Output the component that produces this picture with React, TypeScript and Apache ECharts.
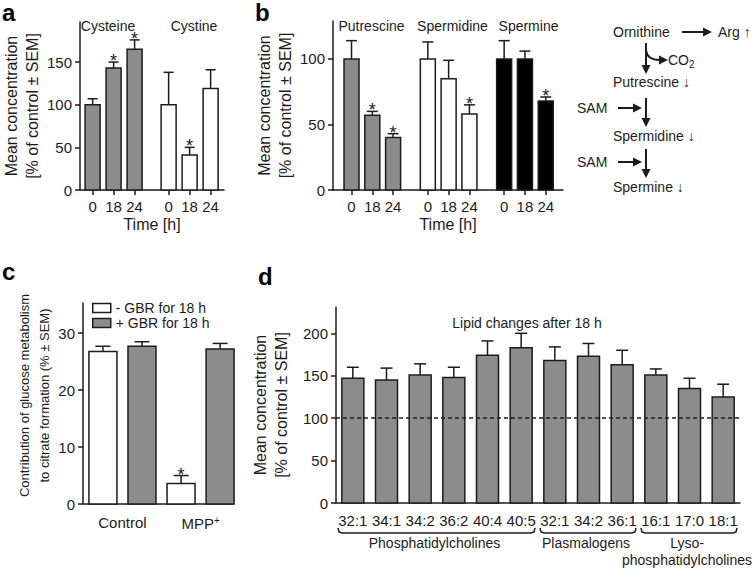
import React, { useEffect, useRef } from 'react';
import * as echarts from 'echarts';

// ---------------- data ----------------
const timeLabels = ['0', '18', '24'];

const cysteineMean = [100, 143, 165];
const cysteineSem = [7, 7, 11];
const cysteineSig = [0, 1, 1];

const cystineMean = [100, 41, 119];
const cystineSem = [38, 9, 22];
const cystineSig = [0, 1, 0];

const putrescineMean = [100, 57, 40];
const putrescineSem = [14, 3, 3];
const putrescineSig = [0, 1, 1];

const spermidineMean = [100, 85, 58];
const spermidineSem = [13, 14, 7];
const spermidineSig = [0, 0, 1];

const spermineMean = [100, 100, 68];
const spermineSem = [14, 6, 3];
const spermineSig = [0, 0, 1];

const citrateCategories = ['Control', 'MPP+'];
const minusGbrMean = [26.8, 3.6];
const minusGbrSem = [0.9, 1.4];
const minusGbrSig = [0, 1];
const plusGbrMean = [27.7, 27.2];
const plusGbrSem = [0.8, 1.0];
const plusGbrSig = [0, 0];

const lipidLabels = ['32:1', '34:1', '34:2', '36:2', '40:4', '40:5', '32:1', '34:2', '36:1', '16:1', '17:0', '18:1'];
const lipidMean = [147, 145, 151, 148, 174, 183, 168, 173, 163, 151, 135, 125];
const lipidSem = [13, 14, 13, 12, 17, 17, 16, 15, 17, 7, 12, 15];
const lipidGroupNames = ['Phosphatidylcholines', 'Plasmalogens', 'Lyso-\nphosphatidylcholines'];
const lipidGroupStart = [0, 6, 9];
const lipidGroupEnd = [5, 8, 11];
const lipidReference = 100;

const yTicksA = [0, 50, 100, 150];
const yTicksB = [0, 50, 100];
const yTicksC = [0, 10, 20, 30];
const yTicksD = [0, 50, 100, 150, 200];

// ---------------- style / layout ----------------
const INK = '#1c1c1c';
const GREY = '#8c8c8c';
const FONT = "'Liberation Sans', Arial, Helvetica, sans-serif";
const STEP_A = 3.62;
const STEP_B = 3.67;
const STEP_C = 2;

function rows(mean: number[], sem: number[], sig: number[], group: number, step: number) {
  return mean.map((m, i) => [group * step + i, m, sem[i], sig[i]]);
}
function rowsC(mean: number[], sem: number[], sig: number[], sub: number) {
  return mean.map((m, i) => [i * STEP_C + sub, m, sem[i], sig[i]]);
}

function barRenderer(fill: string, barW: number, capW: number) {
  return (params: any, api: any) => {
    const x = api.value(0);
    const v = api.value(1);
    const e = api.value(2);
    const sig = api.value(3);
    const base = api.coord([x, 0]);
    const top = api.coord([x, v]);
    const et = api.coord([x, v + e]);
    const cx = base[0];
    const stroke = { stroke: INK, lineWidth: 1.5 };
    const children: any[] = [
      { type: 'line', shape: { x1: cx, y1: top[1], x2: cx, y2: et[1] }, style: stroke },
      { type: 'line', shape: { x1: cx - capW / 2, y1: et[1], x2: cx + capW / 2, y2: et[1] }, style: stroke },
      {
        type: 'rect',
        shape: { x: cx - barW / 2, y: top[1], width: barW, height: base[1] - top[1] },
        style: { fill, stroke: INK, lineWidth: 1.5 },
      },
    ];
    if (sig) {
      children.push({
        type: 'text',
        x: cx,
        y: et[1] - 1,
        style: { text: '*', fill: INK, fontSize: 18, fontFamily: FONT, align: 'center', verticalAlign: 'middle' },
      });
    }
    return { type: 'group', children };
  };
}

function labelLookup(positions: number[], labels: string[]) {
  return (v: number) => {
    let best = 0;
    positions.forEach((p, k) => {
      if (Math.abs(p - v) < Math.abs(positions[best] - v)) best = k;
    });
    return labels[best];
  };
}

const posA = [0, 1].flatMap((g) => timeLabels.map((_, i) => g * STEP_A + i));
const labA = [0, 1].flatMap(() => timeLabels);
const posB = [0, 1, 2].flatMap((g) => timeLabels.map((_, i) => g * STEP_B + i));
const labB = [0, 1, 2].flatMap(() => timeLabels);
const posC = citrateCategories.map((_, i) => i * STEP_C + 0.5);

const axisLineStyle = { onZero: false, lineStyle: { color: INK, width: 1.5 } };
const tickStyle = { lineStyle: { color: INK, width: 1.5 }, length: 5 };

const yTitleAB = 'Mean concentration\n[% of control ± SEM]';

function arrow(x1: number, y1: number, x2: number, y2: number) {
  const len = Math.hypot(x2 - x1, y2 - y1);
  const ux = (x2 - x1) / len;
  const uy = (y2 - y1) / len;
  const hl = 9;
  const hw = 4.5;
  const bx = x2 - ux * hl;
  const by = y2 - uy * hl;
  return [
    { type: 'line', shape: { x1, y1, x2: bx, y2: by }, style: { stroke: INK, lineWidth: 2 } },
    {
      type: 'polygon',
      shape: { points: [[x2, y2], [bx - uy * hw, by + ux * hw], [bx + uy * hw, by - ux * hw]] },
      style: { fill: INK },
    },
  ];
}

function txt(text: string, x: number, y: number, size = 14, align = 'left') {
  return {
    type: 'text',
    x,
    y,
    style: { text, fill: INK, fontSize: size, fontFamily: FONT, align, verticalAlign: 'middle' },
  };
}
function letter(text: string, x: number, y: number) {
  return {
    type: 'text',
    x,
    y,
    style: {
      text, fill: '#000', fontSize: 24, fontFamily: FONT, fontWeight: 'bold',
      align: 'left', verticalAlign: 'top', lineHeight: 24,
    },
  };
}

export default function App() {
  const ref = useRef<HTMLDivElement>(null);

  useEffect(() => {
    if (!ref.current) return;
    const chart = echarts.init(ref.current, undefined, { renderer: 'svg' });

    const option: any = {
      animation: false,
      backgroundColor: '#ffffff',
      textStyle: { fontFamily: FONT, color: INK },
      grid: [
        { left: 80, top: 22, width: 144, height: 168, outerBoundsMode: 'none' },
        { left: 333, top: 21, width: 230, height: 169, outerBoundsMode: 'none' },
        { left: 83, top: 303, width: 150, height: 201, outerBoundsMode: 'none' },
        { left: 336, top: 307, width: 404, height: 196, outerBoundsMode: 'none' },
      ],
      legend: {
        orient: 'vertical',
        left: 92,
        top: 301,
        padding: 0,
        itemWidth: 18,
        itemHeight: 9,
        itemGap: 1,
        icon: 'rect',
        selectedMode: false,
        textStyle: { fontSize: 14, color: INK, lineHeight: 13 },
        data: [
          { name: '- GBR for 18 h', itemStyle: { color: '#ffffff', borderColor: INK, borderWidth: 1.5 } },
          { name: '+ GBR for 18 h', itemStyle: { color: GREY, borderColor: INK, borderWidth: 1.5 } },
        ],
      },
      xAxis: [
        {
          type: 'value', gridIndex: 0, min: -0.6, max: 6.257,
          axisLine: axisLineStyle,
          axisTick: { ...tickStyle, customValues: posA },
          axisLabel: { customValues: posA, formatter: labelLookup(posA, labA), fontSize: 15, color: INK, margin: 9 },
          splitLine: { show: false },
          name: 'Time [h]', nameLocation: 'middle', nameGap: 26,
          nameTextStyle: { fontSize: 16, color: INK, lineHeight: 16 },
        },
        {
          type: 'value', gridIndex: 1, min: -0.89, max: 10.17,
          axisLine: axisLineStyle,
          axisTick: { ...tickStyle, customValues: posB },
          axisLabel: { customValues: posB, formatter: labelLookup(posB, labB), fontSize: 15, color: INK, margin: 9 },
          splitLine: { show: false },
          name: 'Time [h]', nameLocation: 'middle', nameGap: 26,
          nameTextStyle: { fontSize: 16, color: INK, lineHeight: 16 },
        },
        {
          type: 'value', gridIndex: 2, min: -0.51, max: 3.33,
          axisLine: axisLineStyle,
          axisTick: { show: false },
          axisLabel: {
            customValues: posC,
            formatter: (v: number) => {
              const l = labelLookup(posC, citrateCategories)(v);
              return l.endsWith('+') ? '{m|' + l.slice(0, -1) + '}{p|+}' : l;
            },
            fontSize: 15, color: INK, margin: 11,
            rich: {
              m: { fontSize: 15, color: INK, lineHeight: 16 },
              p: { fontSize: 10, color: INK, verticalAlign: 'top', lineHeight: 16 },
            },
          },
          splitLine: { show: false },
        },
        {
          type: 'category', gridIndex: 3, data: lipidLabels,
          axisLine: axisLineStyle,
          axisTick: { ...tickStyle, alignWithLabel: true },
          axisLabel: { fontSize: 15, color: INK, margin: 10, interval: 0 },
          splitLine: { show: false },
        },
      ],
      yAxis: [
        {
          type: 'value', gridIndex: 0, min: 0, max: 197,
          axisLine: { show: true, ...axisLineStyle },
          axisTick: { show: true, ...tickStyle, customValues: yTicksA },
          axisLabel: { customValues: yTicksA, fontSize: 15, color: INK, margin: 8 },
          splitLine: { show: false },
          name: yTitleAB, nameLocation: 'middle', nameRotate: 90, nameGap: 31,
          nameTextStyle: { fontSize: 16, lineHeight: 21, color: INK, align: 'center' },
        },
        {
          type: 'value', gridIndex: 1, min: 0, max: 129,
          axisLine: { show: true, ...axisLineStyle },
          axisTick: { show: true, ...tickStyle, customValues: yTicksB },
          axisLabel: { customValues: yTicksB, fontSize: 15, color: INK, margin: 8 },
          splitLine: { show: false },
          name: yTitleAB, nameLocation: 'middle', nameRotate: 90, nameGap: 37,
          nameTextStyle: { fontSize: 16, lineHeight: 21, color: INK, align: 'center' },
        },
        {
          type: 'value', gridIndex: 2, min: 0, max: 35.3,
          axisLine: { show: true, ...axisLineStyle },
          axisTick: { show: true, ...tickStyle, customValues: yTicksC },
          axisLabel: { customValues: yTicksC, fontSize: 15, color: INK, margin: 8 },
          splitLine: { show: false },
          name: 'Contribution of glucose metabolism\nto citrate formation (% ± SEM)',
          nameLocation: 'middle', nameRotate: 90, nameGap: 25,
          nameTextStyle: { fontSize: 13, lineHeight: 20, color: INK, align: 'center', padding: [0, 0, 0, 16] },
        },
        {
          type: 'value', gridIndex: 3, min: 0, max: 231,
          axisLine: { show: true, ...axisLineStyle },
          axisTick: { show: true, ...tickStyle, customValues: yTicksD },
          axisLabel: { customValues: yTicksD, fontSize: 15, color: INK, margin: 8 },
          splitLine: { show: false },
          name: yTitleAB, nameLocation: 'middle', nameRotate: 90, nameGap: 37,
          nameTextStyle: { fontSize: 16, lineHeight: 21, color: INK, align: 'center' },
        },
      ],
      series: [
        {
          type: 'custom', name: 'Cysteine', xAxisIndex: 0, yAxisIndex: 0, clip: false,
          encode: { x: 0, y: 1 }, data: rows(cysteineMean, cysteineSem, cysteineSig, 0, STEP_A),
          renderItem: barRenderer(GREY, 15, 10),
        },
        {
          type: 'custom', name: 'Cystine', xAxisIndex: 0, yAxisIndex: 0, clip: false,
          encode: { x: 0, y: 1 }, data: rows(cystineMean, cystineSem, cystineSig, 1, STEP_A),
          renderItem: barRenderer('#ffffff', 15, 10),
        },
        {
          type: 'custom', name: 'Putrescine', xAxisIndex: 1, yAxisIndex: 1, clip: false,
          encode: { x: 0, y: 1 }, data: rows(putrescineMean, putrescineSem, putrescineSig, 0, STEP_B),
          renderItem: barRenderer(GREY, 15, 11),
        },
        {
          type: 'custom', name: 'Spermidine', xAxisIndex: 1, yAxisIndex: 1, clip: false,
          encode: { x: 0, y: 1 }, data: rows(spermidineMean, spermidineSem, spermidineSig, 1, STEP_B),
          renderItem: barRenderer('#ffffff', 15, 11),
        },
        {
          type: 'custom', name: 'Spermine', xAxisIndex: 1, yAxisIndex: 1, clip: false,
          encode: { x: 0, y: 1 }, data: rows(spermineMean, spermineSem, spermineSig, 2, STEP_B),
          renderItem: barRenderer('#000000', 15, 11),
        },
        {
          type: 'custom', name: '- GBR for 18 h', xAxisIndex: 2, yAxisIndex: 2, clip: false,
          itemStyle: { color: '#ffffff', borderColor: INK, borderWidth: 1.5 },
          encode: { x: 0, y: 1 }, data: rowsC(minusGbrMean, minusGbrSem, minusGbrSig, 0),
          renderItem: barRenderer('#ffffff', 28, 15),
        },
        {
          type: 'custom', name: '+ GBR for 18 h', xAxisIndex: 2, yAxisIndex: 2, clip: false,
          itemStyle: { color: GREY, borderColor: INK, borderWidth: 1.5 },
          encode: { x: 0, y: 1 }, data: rowsC(plusGbrMean, plusGbrSem, plusGbrSig, 1),
          renderItem: barRenderer(GREY, 28, 15),
        },
        {
          type: 'custom', name: 'Lipids', xAxisIndex: 3, yAxisIndex: 3, clip: false,
          encode: { x: 0, y: 1 },
          data: lipidMean.map((m, i) => [i, m, lipidSem[i], 0]),
          renderItem: barRenderer(GREY, 22, 12),
          markLine: {
            silent: true, symbol: 'none', label: { show: false },
            lineStyle: { color: INK, width: 1.5, type: [4, 3] },
            data: [{ yAxis: lipidReference }],
          },
        },
        {
          type: 'custom', name: 'Lipid groups', xAxisIndex: 3, yAxisIndex: 3, clip: false,
          encode: { x: [0, 1], y: 2 },
          data: lipidGroupStart.map((s, i) => [s, lipidGroupEnd[i], 0]),
          renderItem: (params: any, api: any) => {
            const s = api.value(0);
            const e = api.value(1);
            const band = api.size([1, 0])[0];
            const p1 = api.coord([s, 0]);
            const p2 = api.coord([e, 0]);
            const x1 = p1[0] - band / 2 + 2;
            const x2 = p2[0] + band / 2 - 3;
            const y = p1[1] + 30;
            return {
              type: 'group',
              children: [
                {
                  type: 'polyline',
                  shape: { points: [[x1, y - 5], [x1 + 1, y - 1], [x1 + 4, y], [x2 - 4, y], [x2 - 1, y - 1], [x2, y - 5]] },
                  style: { stroke: INK, lineWidth: 1.5, fill: 'none' },
                },
                {
                  type: 'text',
                  x: (x1 + x2) / 2 - 2,
                  y: y + 1,
                  style: {
                    text: lipidGroupNames[params.dataIndex], fill: INK, fontSize: 14, fontFamily: FONT,
                    align: 'center', verticalAlign: 'top', lineHeight: 17,
                  },
                },
              ],
            };
          },
        },
      ],
      graphic: [
        letter('a', 2, 0),
        letter('b', 255, 0),
        letter('c', 2, 259),
        letter('d', 258, 264),
        txt('Cysteine', 108, 26, 14, 'center'),
        txt('Cystine', 194, 26, 14, 'center'),
        txt('Putrescine', 371.5, 26, 14, 'center'),
        txt('Spermidine', 452.5, 26, 14, 'center'),
        txt('Spermine', 528.5, 26, 14, 'center'),
        txt('Lipid changes after 18 h', 527, 323, 14, 'center'),
        // polyamine pathway scheme
        txt('Ornithine', 613, 32),
        txt('Arg ↑', 718, 32),
        txt('CO', 668, 60),
        txt('2', 689, 64, 10),
        txt('Putrescine ↓', 613, 82),
        txt('SAM', 577, 108),
        txt('Spermidine ↓', 613, 136),
        txt('SAM', 577, 162),
        txt('Spermine ↓', 613, 187),
        ...arrow(682, 32, 712, 32),
        ...arrow(646, 43, 646, 74),
        {
          type: 'bezierCurve',
          shape: { x1: 646, y1: 50, cpx1: 647, cpy1: 60, x2: 660, y2: 60 },
          style: { stroke: INK, lineWidth: 2, fill: 'none' },
        },
        { type: 'polygon', shape: { points: [[668, 60], [659, 55.5], [659, 64.5]] }, style: { fill: INK } },
        ...arrow(618, 108, 642, 108),
        ...arrow(646, 98, 646, 127),
        ...arrow(618, 162, 642, 162),
        ...arrow(646, 149, 646, 178),
      ],
    };

    chart.setOption(option);
    return () => chart.dispose();
  }, []);

  return (
    <div
      ref={ref}
      style={{ position: 'fixed', left: 0, top: 0, width: 755, height: 570, background: '#fff' }}
    />
  );
}
